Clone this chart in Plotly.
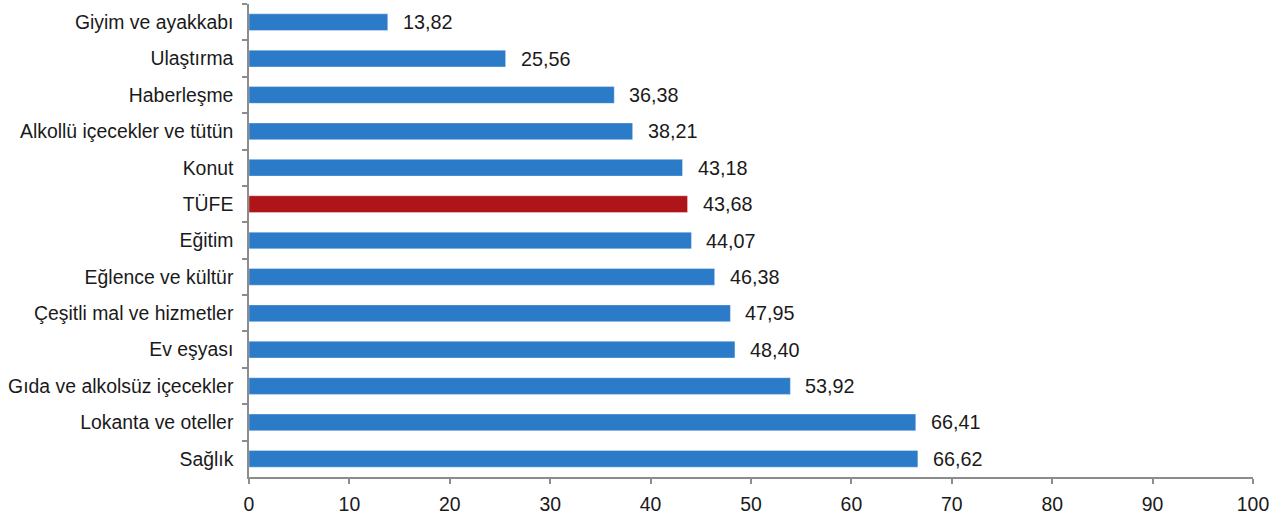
import plotly.graph_objects as go

categories = [
    "Giyim ve ayakkabı", "Ulaştırma", "Haberleşme", "Alkollü içecekler ve tütün",
    "Konut", "TÜFE", "Eğitim", "Eğlence ve kültür", "Çeşitli mal ve hizmetler",
    "Ev eşyası", "Gıda ve alkolsüz içecekler", "Lokanta ve oteller", "Sağlık",
]
values = [13.82, 25.56, 36.38, 38.21, 43.18, 43.68, 44.07, 46.38, 47.95, 48.40, 53.92, 66.41, 66.62]
x_ticks = [0, 10, 20, 30, 40, 50, 60, 70, 80, 90, 100]

BLUE = "#2B7BC8"
RED = "#AE1518"
colors = [RED if c == "TÜFE" else BLUE for c in categories]
FONT = "Liberation Sans, Arial, sans-serif"
FS = 19.4

fig = go.Figure(go.Bar(
    y=categories, x=values, orientation="h",
    marker=dict(color=colors, line=dict(color="rgba(255,255,255,0.35)", width=1)),
    width=0.46,
    hoverinfo="skip",
))

for c, v in zip(categories, values):
    fig.add_annotation(
        x=v, y=c, xref="x", yref="y", text=f"{v:.2f}".replace(".", ","),
        showarrow=False, xanchor="left", yanchor="middle", xshift=13,
        font=dict(family=FONT, size=19.8, color="#1a1a1a"),
    )

fig.update_layout(
    width=1280, height=519,
    margin=dict(l=249, r=27, t=4, b=42, autoexpand=False),
    plot_bgcolor="white", paper_bgcolor="white",
    showlegend=False,
    font=dict(family=FONT, size=FS, color="#1a1a1a"),
)
fig.update_xaxes(
    range=[0, 100], tickvals=x_ticks, ticktext=[str(t) for t in x_ticks],
    showgrid=False, zeroline=False, showline=True, linecolor="#8c8c8c", linewidth=1.5,
    ticks="outside", ticklen=5, tickcolor="#8c8c8c", tickwidth=1.5,
    ticklabelstandoff=4,
    tickfont=dict(family=FONT, size=FS, color="#1a1a1a"), automargin=False,
)
fig.update_yaxes(
    categoryorder="array", categoryarray=categories, autorange="reversed",
    showgrid=False, zeroline=False, showline=True, linecolor="#8c8c8c", linewidth=1.5,
    ticks="outside", ticklen=5, tickcolor="#8c8c8c", tickwidth=1.5, tickson="boundaries",
    ticklabelstandoff=10,
    tickfont=dict(family=FONT, size=FS, color="#1a1a1a"), automargin=False,
)

fig.write_html("out.html", config={"displayModeBar": False},
               post_script="document.body.style.margin='0';")
